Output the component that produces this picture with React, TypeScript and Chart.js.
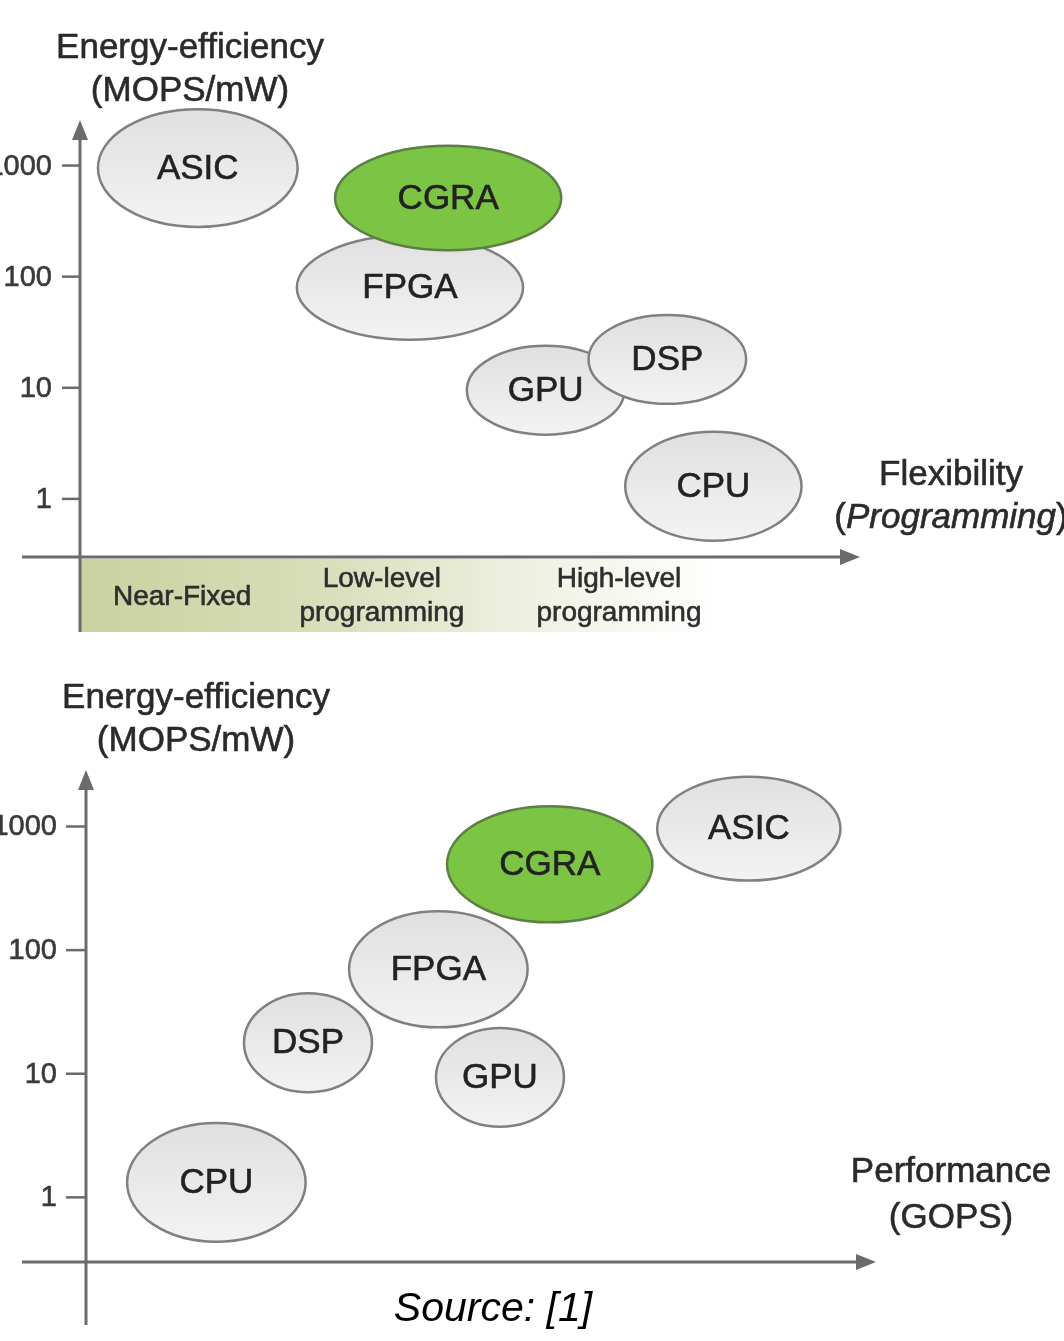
import React, { useEffect, useRef } from "react";
import { Chart, registerables } from "chart.js";

Chart.register(...registerables);

// ---------- data ----------
const TICK_VALUES = [1, 10, 100, 1000];
const TICK_LABELS = ["1", "10", "100", "1000"];

// Chart 1: Energy-efficiency vs Flexibility
const FLEX_NAMES = ["ASIC", "FPGA", "CGRA", "GPU", "DSP", "CPU"];
const FLEX_X = [1.51, 4.23, 4.72, 5.97, 7.53, 8.12];
const FLEX_EFF = [950, 80, 510, 9.5, 18, 1.3];
const FLEX_X_SPREAD = [1.28, 1.45, 1.45, 1.01, 1.01, 1.13];
const FLEX_DEC_SPREAD = [0.53, 0.47, 0.47, 0.4, 0.4, 0.49];
const FLEX_HIGHLIGHT = [false, false, true, false, false, false];

const BAND_LABELS = [["Near-Fixed"], ["Low-level", "programming"], ["High-level", "programming"]];
const BAND_CENTERS = [1.31, 3.87, 6.91];
const BAND_END = 8.2;

// Chart 2: Energy-efficiency vs Performance
const PERF_NAMES = ["CPU", "DSP", "GPU", "FPGA", "CGRA", "ASIC"];
const PERF_X = [1.65, 2.81, 5.24, 4.46, 5.87, 8.39];
const PERF_EFF = [1.32, 17.8, 9.35, 70, 495, 960];
const PERF_X_SPREAD = [1.13, 0.81, 0.81, 1.13, 1.3, 1.16];
const PERF_DEC_SPREAD = [0.48, 0.4, 0.4, 0.47, 0.47, 0.42];
const PERF_HIGHLIGHT = [false, false, false, false, true, false];

// ---------- styles ----------
const FONT = '"Liberation Sans", Arial, Helvetica, sans-serif';
const TEXT = "#2a2a2a";
const AXIS = "#6b6b6b";

type Spec = {
  names: string[];
  xs: number[];
  ys: number[];
  xSpread: number[];
  decSpread: number[];
  highlight: boolean[];
  width: number;
  height: number;
  padding: { left: number; right: number; top: number; bottom: number };
  yMin: number;
  yMax: number;
  yAxisBottomExtra: number;
  xTitle: string;
  xSubtitle: string;
  italicSub: boolean;
  xTitleDx: number;
  xTitleDy: number;
  tickLen: number;
  tickGap: number;
  band: boolean;
  source: string | null;
};

function drawArrowUp(ctx: CanvasRenderingContext2D, x: number, y: number) {
  ctx.beginPath();
  ctx.moveTo(x, y);
  ctx.lineTo(x - 8, y + 20);
  ctx.lineTo(x + 8, y + 20);
  ctx.closePath();
  ctx.fill();
}
function drawArrowRight(ctx: CanvasRenderingContext2D, x: number, y: number) {
  ctx.beginPath();
  ctx.moveTo(x, y);
  ctx.lineTo(x - 20, y - 8);
  ctx.lineTo(x - 20, y + 8);
  ctx.closePath();
  ctx.fill();
}

function boldText(ctx: CanvasRenderingContext2D, s: string, x: number, y: number) {
  ctx.fillText(s, x, y);
  ctx.lineWidth = 0.6;
  ctx.strokeStyle = ctx.fillStyle as string;
  ctx.strokeText(s, x, y);
}

function makePlugin(spec: Spec) {
  return {
    id: "bubbleDiagram",
    beforeDatasetsDraw(chart: any) {
      const ctx: CanvasRenderingContext2D = chart.ctx;
      const area = chart.chartArea;
      const xs = chart.scales.x;
      const ys = chart.scales.y;
      ctx.save();
      // band under x axis
      if (spec.band) {
        const x0 = xs.getPixelForValue(0);
        const x1 = xs.getPixelForValue(BAND_END);
        const g = ctx.createLinearGradient(x0, 0, x1, 0);
        g.addColorStop(0, "#c9d2a0");
        g.addColorStop(0.35, "#d6ddb7");
        g.addColorStop(0.7, "#eef1e2");
        g.addColorStop(1, "rgba(255,255,255,1)");
        ctx.fillStyle = g;
        ctx.fillRect(x0, area.bottom + 2, x1 - x0, 73);
        ctx.fillStyle = "#2e2e2e";
        ctx.font = `28px ${FONT}`;
        ctx.textAlign = "center";
        ctx.textBaseline = "middle";
        BAND_LABELS.forEach((lines, i) => {
          const cx = xs.getPixelForValue(BAND_CENTERS[i]);
          if (lines.length === 1) boldText(ctx, lines[0], cx, area.bottom + 40);
          else {
            boldText(ctx, lines[0], cx, area.bottom + 22);
            boldText(ctx, lines[1], cx, area.bottom + 56);
          }
        });
      }
      // axes
      ctx.strokeStyle = AXIS;
      ctx.fillStyle = AXIS;
      ctx.lineWidth = 3;
      ctx.beginPath();
      ctx.moveTo(area.left, area.top + 12);
      ctx.lineTo(area.left, area.bottom + spec.yAxisBottomExtra);
      ctx.stroke();
      drawArrowUp(ctx, area.left, area.top);
      ctx.beginPath();
      ctx.moveTo(22, area.bottom);
      ctx.lineTo(area.right - 12, area.bottom);
      ctx.stroke();
      drawArrowRight(ctx, area.right, area.bottom);
      // ticks
      ctx.font = `29px ${FONT}`;
      ctx.textAlign = "right";
      ctx.textBaseline = "middle";
      TICK_VALUES.forEach((v, i) => {
        const py = ys.getPixelForValue(v);
        ctx.strokeStyle = AXIS;
        ctx.lineWidth = 2.5;
        ctx.beginPath();
        ctx.moveTo(area.left - spec.tickLen, py);
        ctx.lineTo(area.left, py);
        ctx.stroke();
        ctx.fillStyle = "#3a3a3a";
        boldText(ctx, TICK_LABELS[i], area.left - spec.tickLen - spec.tickGap, py + 1);
      });
      // y-axis title
      ctx.fillStyle = TEXT;
      ctx.font = `35px ${FONT}`;
      ctx.textAlign = "center";
      boldText(ctx, "Energy-efficiency", area.left + 110, area.top - 72);
      boldText(ctx, "(MOPS/mW)", area.left + 110, area.top - 29);
      // x-axis title
      const tx = area.right + spec.xTitleDx;
      boldText(ctx, spec.xTitle, tx, area.bottom - spec.xTitleDy);
      if (spec.italicSub) {
        const open = "(";
        const mid = spec.xSubtitle;
        const close = ")";
        ctx.font = `35px ${FONT}`;
        const w1 = ctx.measureText(open).width;
        const w3 = ctx.measureText(close).width;
        ctx.font = `italic 35px ${FONT}`;
        const w2 = ctx.measureText(mid).width;
        let sx = tx - (w1 + w2 + w3) / 2;
        const sy = area.bottom - spec.xTitleDy + 43;
        ctx.textAlign = "left";
        ctx.font = `35px ${FONT}`;
        boldText(ctx, open, sx, sy);
        sx += w1;
        ctx.font = `italic 35px ${FONT}`;
        boldText(ctx, mid, sx, sy);
        sx += w2;
        ctx.font = `35px ${FONT}`;
        boldText(ctx, close, sx, sy);
      } else {
        boldText(ctx, spec.xSubtitle, tx, area.bottom - spec.xTitleDy + 46);
      }
      ctx.restore();
    },
    afterDatasetsDraw(chart: any) {
      const ctx: CanvasRenderingContext2D = chart.ctx;
      const meta = chart.getDatasetMeta(0);
      const xs = chart.scales.x;
      const ys = chart.scales.y;
      ctx.save();
      spec.names.forEach((name, i) => {
        const pt = meta.data[i];
        const cx = pt.x;
        const cy = pt.y;
        const rx = Math.abs(xs.getPixelForValue(spec.xs[i] + spec.xSpread[i]) - cx);
        const ry = Math.abs(cy - ys.getPixelForValue(spec.ys[i] * Math.pow(10, spec.decSpread[i])));
        ctx.beginPath();
        ctx.ellipse(cx, cy, rx, ry, 0, 0, Math.PI * 2);
        if (spec.highlight[i]) {
          ctx.fillStyle = "#7cc444";
          ctx.strokeStyle = "#5b7f45";
        } else {
          const g = ctx.createLinearGradient(cx, cy - ry, cx, cy + ry);
          g.addColorStop(0, "#e0e0e0");
          g.addColorStop(1, "#f3f3f3");
          ctx.fillStyle = g;
          ctx.strokeStyle = "#808080";
        }
        ctx.fill();
        ctx.lineWidth = 2.5;
        ctx.stroke();
        ctx.fillStyle = "#222222";
        ctx.font = `35px ${FONT}`;
        ctx.textAlign = "center";
        ctx.textBaseline = "middle";
        boldText(ctx, name, cx, cy + 1);
      });
      if (spec.source) {
        ctx.fillStyle = "#000";
        ctx.font = `italic 41px ${FONT}`;
        ctx.textAlign = "center";
        ctx.textBaseline = "middle";
        ctx.fillText(spec.source, 493, chart.chartArea.bottom + 48);
      }
      ctx.restore();
    },
  };
}

function DiagramChart({ spec, top }: { spec: Spec; top: number }) {
  const ref = useRef<HTMLCanvasElement | null>(null);
  useEffect(() => {
    if (!ref.current) return;
    const chart = new Chart(ref.current, {
      type: "scatter",
      data: {
        datasets: [
          {
            data: spec.xs.map((x, i) => ({ x, y: spec.ys[i] })),
            pointRadius: 0,
            pointHoverRadius: 0,
          },
        ],
      },
      options: {
        responsive: false,
        animation: false,
        devicePixelRatio: 1,
        layout: { padding: spec.padding },
        plugins: { legend: { display: false }, tooltip: { enabled: false } },
        events: [],
        scales: {
          x: { type: "linear", min: 0, max: 10, display: false },
          y: { type: "logarithmic", min: spec.yMin, max: spec.yMax, display: false },
        },
      },
      plugins: [makePlugin(spec)],
    } as any);
    return () => chart.destroy();
  }, [spec]);
  return (
    <canvas
      ref={ref}
      width={spec.width}
      height={spec.height}
      style={{ position: "absolute", left: 0, top, width: spec.width, height: spec.height }}
    />
  );
}

const FLEX_SPEC: Spec = {
  names: FLEX_NAMES,
  xs: FLEX_X,
  ys: FLEX_EFF,
  xSpread: FLEX_X_SPREAD,
  decSpread: FLEX_DEC_SPREAD,
  highlight: FLEX_HIGHLIGHT,
  width: 1064,
  height: 660,
  padding: { left: 80, right: 204, top: 120, bottom: 103 },
  yMin: Math.pow(10, -0.481),
  yMax: Math.pow(10, 3.41),
  yAxisBottomExtra: 75,
  xTitle: "Flexibility",
  xSubtitle: "Programming",
  italicSub: true,
  xTitleDx: 91,
  xTitleDy: 82,
  tickLen: 18,
  tickGap: 10,
  band: true,
  source: null,
};

const PERF_SPEC: Spec = {
  names: PERF_NAMES,
  xs: PERF_X,
  ys: PERF_EFF,
  xSpread: PERF_X_SPREAD,
  decSpread: PERF_DEC_SPREAD,
  highlight: PERF_HIGHLIGHT,
  width: 1064,
  height: 681,
  padding: { left: 86, right: 188, top: 110, bottom: 79 },
  yMin: Math.pow(10, -0.489),
  yMax: Math.pow(10, 3.457),
  yAxisBottomExtra: 63,
  xTitle: "Performance",
  xSubtitle: "(GOPS)",
  italicSub: false,
  xTitleDx: 75,
  xTitleDy: 90,
  tickLen: 20,
  tickGap: 9,
  band: false,
  source: "Source: [1]",
};

export default function App() {
  useEffect(() => {
    document.body.style.margin = "0";
    document.body.style.overflow = "hidden";
  }, []);
  return (
    <div style={{ position: "absolute", left: 0, top: 0, width: 1064, height: 1341, background: "#fff", overflow: "hidden" }}>
      <DiagramChart spec={FLEX_SPEC} top={0} />
      <DiagramChart spec={PERF_SPEC} top={660} />
    </div>
  );
}
